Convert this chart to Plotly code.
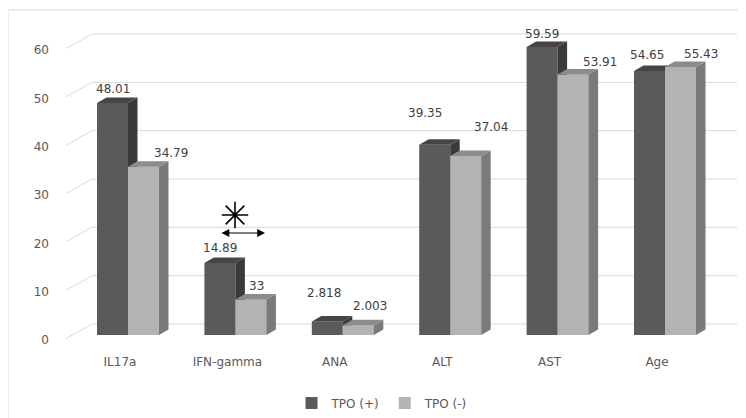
import plotly.graph_objects as go

# ---------------- data ----------------
categories = ["IL17a", "IFN-gamma", "ANA", "ALT", "AST", "Age"]
tpo_pos = [48.01, 14.89, 2.818, 39.35, 59.59, 54.65]
tpo_neg = [34.79, 7.33, 2.003, 37.04, 53.91, 55.43]
tpo_pos_labels = ["48.01", "14.89", "2.818", "39.35", "59.59", "54.65"]
tpo_neg_labels = ["34.79", "33", "2.003", "37.04", "53.91", "55.43"]
y_ticks = [0, 10, 20, 30, 40, 50, 60]
series_names = ["TPO (+)", "TPO (-)"]

# label placement offsets in pixels (dx, dy) relative to top-centre of the front face
pos_label_offsets = [(0, 14), (0, 15), (-3, 28), (-10, 32), (0, 13), (-3, 16)]
neg_label_offsets = [(27, 14), (6, 14), (12, 19), (25, 29), (27, 12), (20, 13)]

# ---------------- geometry ----------------
# The page body adds an 8px margin, so the figure is laid out 8px left/up of the
# target pixel positions.
PAGE = 8
W, H = 746 - PAGE, 418 - PAGE


def px(p):
    return p - PAGE


plot_l, plot_r, plot_t, plot_b = px(66), px(737), px(20), px(345)
cat_px = 107.4            # pixels per category
cat0_px = px(128)         # pixel x of first category centre
unit_px = 4.833           # pixels per y unit
zero_px = px(335)         # pixel y of value 0 (front plane)

xr = [(plot_l - cat0_px) / cat_px, (plot_r - cat0_px) / cat_px]
yr = [(zero_px - plot_b) / unit_px, (zero_px - plot_t) / unit_px]

bar_w = 31 / cat_px
dx = 9.5 / cat_px
dy = 5.5 / unit_px

grid_back_x = (px(92) - cat0_px) / cat_px
grid_back_dy = 11 / unit_px
grid_front_dy = -3.5 / unit_px

dark_front, dark_side, dark_top = "#5a5a5a", "#3a3a3a", "#454545"
light_front, light_side, light_top = "#b3b3b3", "#7a7a7a", "#8c8c8c"
font_family = "DejaVu Sans, Verdana, sans-serif"

idx = list(range(len(categories)))

fig = go.Figure()

# front faces as bars
fig.add_trace(go.Bar(x=idx, y=tpo_pos, name=series_names[0], width=bar_w, offset=-bar_w,
                     marker=dict(color=dark_front, line=dict(width=0))))
fig.add_trace(go.Bar(x=idx, y=tpo_neg, name=series_names[1], width=bar_w, offset=0,
                     marker=dict(color=light_front, line=dict(width=0))))


def faces(values, x0s):
    side_x, side_y, top_x, top_y, front_x, front_y = [], [], [], [], [], []
    for x0, v in zip(x0s, values):
        x1 = x0 + bar_w
        side_x += [x1, x1, x1 + dx, x1 + dx, None]
        side_y += [0, v, v + dy, dy, None]
        top_x += [x0, x1, x1 + dx, x0 + dx, None]
        top_y += [v, v, v + dy, v + dy, None]
        front_x += [x0, x1, x1, x0, None]
        front_y += [0, 0, v, v, None]
    return (side_x, side_y), (top_x, top_y), (front_x, front_y)


def poly(xy, color):
    return go.Scatter(x=xy[0], y=xy[1], mode="lines", fill="toself", fillcolor=color,
                      line=dict(width=0, color=color), hoverinfo="skip", showlegend=False)


d_side, d_top, _ = faces(tpo_pos, [i - bar_w for i in idx])
l_side, l_top, l_front = faces(tpo_neg, [i for i in idx])
fig.add_trace(poly(d_side, dark_side))
fig.add_trace(poly(d_top, dark_top))
fig.add_trace(poly(l_front, light_front))
fig.add_trace(poly(l_side, light_side))
fig.add_trace(poly(l_top, light_top))

# significance star
fig.add_trace(go.Scatter(x=[(px(235) - cat0_px) / cat_px], y=[(zero_px - px(215)) / unit_px],
                         mode="markers", showlegend=False, hoverinfo="skip",
                         marker=dict(symbol="asterisk-open", size=22, color="black",
                                     line=dict(width=1.6, color="black"))))

shapes = []
# gridlines (3D style: slanted side wall + back wall)
for t in y_ticks:
    shapes.append(dict(type="line", xref="x", yref="y", layer="below",
                       x0=xr[0], y0=t + grid_front_dy, x1=grid_back_x, y1=t + grid_back_dy,
                       line=dict(color="#d9d9d9", width=1)))
    shapes.append(dict(type="line", xref="x", yref="y", layer="below",
                       x0=grid_back_x, y0=t + grid_back_dy, x1=xr[1], y1=t + grid_back_dy,
                       line=dict(color="#d9d9d9", width=1)))

# outer chart frame
pw, ph = plot_r - plot_l, plot_b - plot_t
shapes.append(dict(type="rect", xref="paper", yref="paper", layer="below",
                   x0=(px(8) - plot_l) / pw, x1=(px(760) - plot_l) / pw,
                   y0=(plot_b - px(10)) / ph, y1=(plot_b - px(430)) / ph,
                   line=dict(color="#d9d9d9", width=1), fillcolor="rgba(0,0,0,0)"))

annotations = []
for i in idx:
    ox, oy = pos_label_offsets[i]
    annotations.append(dict(x=i - bar_w / 2, y=tpo_pos[i], text=tpo_pos_labels[i],
                            xref="x", yref="y", showarrow=False, xshift=ox, yshift=oy,
                            font=dict(family=font_family, size=12, color="#404040")))
    ox, oy = neg_label_offsets[i]
    annotations.append(dict(x=i + bar_w / 2, y=tpo_neg[i], text=tpo_neg_labels[i],
                            xref="x", yref="y", showarrow=False, xshift=ox, yshift=oy,
                            font=dict(family=font_family, size=12, color="#404040")))

# double-headed arrow under the star
arrow_y = (zero_px - px(233)) / unit_px
annotations.append(dict(x=(px(265) - cat0_px) / cat_px, y=arrow_y,
                        ax=(px(220) - cat0_px) / cat_px, ay=arrow_y,
                        xref="x", yref="y", axref="x", ayref="y", text="",
                        showarrow=True, arrowside="end+start", arrowhead=2,
                        arrowsize=1.3, arrowwidth=1.2, arrowcolor="black"))

fig.update_layout(
    width=W, height=H,
    margin=dict(l=plot_l, r=W - plot_r, t=plot_t, b=H - plot_b, autoexpand=False),
    paper_bgcolor="white", plot_bgcolor="white",
    barmode="overlay",
    shapes=shapes, annotations=annotations,
    font=dict(family=font_family, size=12, color="#595959"),
    legend=dict(orientation="h", x=(px(382) - plot_l) / pw, xanchor="center",
                y=(plot_b - px(403)) / ph, yanchor="middle",
                font=dict(size=12, color="#595959"), itemwidth=30,
                traceorder="normal"),
    xaxis=dict(range=xr, tickvals=idx, ticktext=categories, showgrid=False,
               zeroline=False, showline=False, ticks="", ticklabelshift=-8,
               ticklabelstandoff=8, automargin=False,
               tickfont=dict(size=12, color="#595959")),
    yaxis=dict(range=yr, tickvals=y_ticks, showgrid=False, zeroline=False,
               showline=False, ticks="", ticklabelshift=5, ticklabelstandoff=16,
               automargin=False, tickfont=dict(size=12, color="#595959")),
)

fig.write_html("out.html")
